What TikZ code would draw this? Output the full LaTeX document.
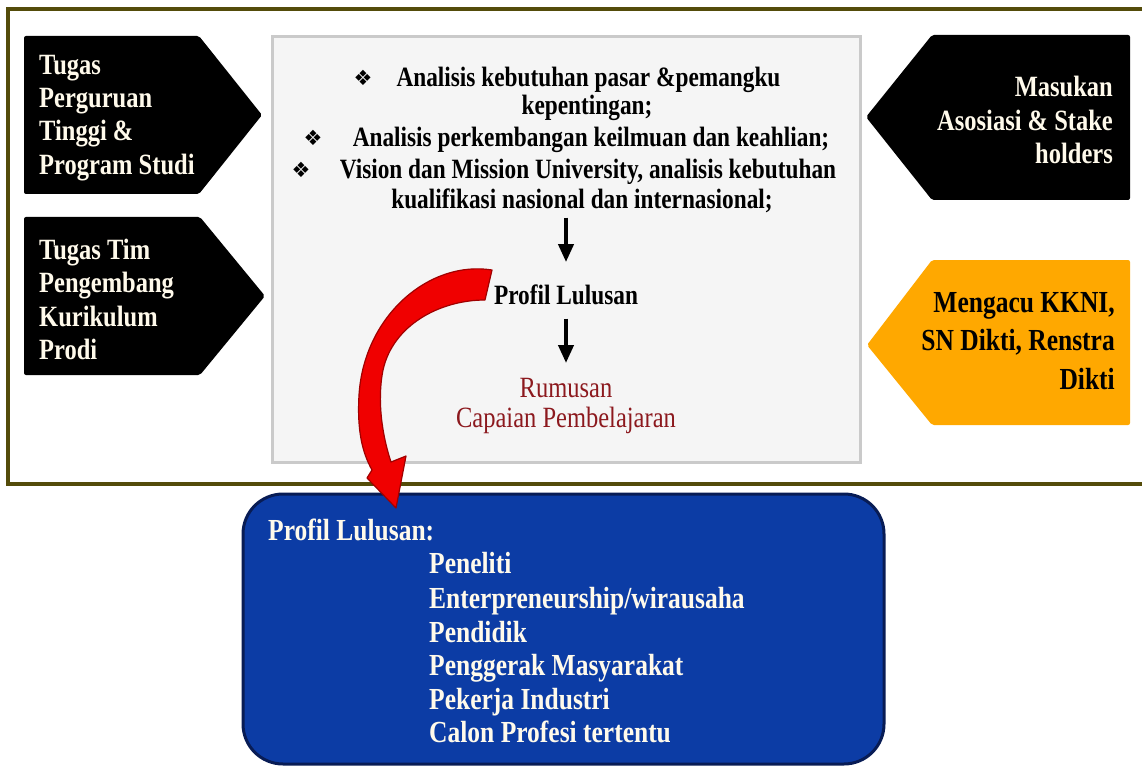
\documentclass[tikz,border=0pt]{standalone}
\usepackage{fontspec}
\setmainfont{Liberation Serif}
\newfontfamily\dingfont{DejaVu Sans}
\usetikzlibrary{arrows.meta}

\definecolor{frameC}{RGB}{84,76,10}
\definecolor{panelE}{RGB}{202,202,202}
\definecolor{panelF}{RGB}{245,245,245}
\definecolor{gold}{RGB}{255,168,0}
\definecolor{blueF}{RGB}{12,60,165}
\definecolor{blueE}{RGB}{8,28,85}
\definecolor{cream}{RGB}{255,250,235}
\definecolor{rumC}{RGB}{140,25,30}
\definecolor{redF}{RGB}{240,0,0}
\definecolor{redE}{RGB}{160,0,0}

\tikzset{
  frame/.style={draw=frameC, line width=4pt},
  panel/.style={draw=panelE, fill=panelF, line width=3pt, minimum width=588pt, minimum height=425pt, inner sep=0pt},
  darktag/.style={fill=black, rounded corners=2pt},
  goldtag/.style={fill=gold, rounded corners=2pt},
  tagtxt/.style={text=cream, font=\bfseries\fontsize{24.5}{27.7}\selectfont, yscale=1.2, inner sep=0pt},
  goldtxt/.style={text=black, font=\bfseries\fontsize{25.5}{32}\selectfont, yscale=1.2, inner sep=0pt, align=right, anchor=east},
  midtxt/.style={text=black, font=\bfseries\fontsize{23.3}{26}\selectfont, yscale=1.2, inner sep=0pt, anchor=base},
  bul/.style={text=black, font=\dingfont\fontsize{21}{24}\selectfont, inner sep=0pt, anchor=base},
  rumtxt/.style={text=rumC, font=\fontsize{24.5}{25}\selectfont, yscale=1.2, inner sep=0pt, align=center},
  outbox/.style={draw=blueE, fill=blueF, line width=3pt, rounded corners=40pt, minimum width=641pt, minimum height=270pt, inner sep=0pt},
  outtxt/.style={text=cream, font=\bfseries\fontsize{25.5}{30}\selectfont, yscale=1.2, inner sep=0pt, anchor=base west},
  blackarrow/.style={line width=4pt, -{Triangle[length=18pt,width=15pt]}},
  redarrow/.style={fill=redF, draw=redE, line width=1.2pt, line join=round},
}

\begin{document}
\begin{tikzpicture}[x=1pt, y=-1pt]
\useasboundingbox (0,0) rectangle (1142,767);
\fill[white] (0,0) rectangle (1142,767);

% outer frame (runs past the right edge)
\draw[frame] (8,9) rectangle (1170,484);

% central panel
\node[panel] (panel) at (566,249.5) {};

% left tags
\fill[darktag] (24,36) -- (199,36) -- (262,115) -- (199,194) -- (24,194) -- cycle;
\node[tagtxt, anchor=west, align=left] (tagA) at (39,118)
  {Tugas\\Perguruan\\Tinggi \&\\Program Studi};
\fill[darktag] (24,217) -- (200,217) -- (265,296) -- (200,375) -- (24,375) -- cycle;
\node[tagtxt, anchor=west, align=left] (tagB) at (39,299.5)
  {Tugas Tim\\Pengembang\\Kurikulum\\Prodi};

% right tags
\fill[darktag] (1130,35) -- (932,35) -- (866,117) -- (932,200) -- (1130,200) -- cycle;
\node[tagtxt, anchor=east, align=right] (tagC) at (1113,120)
  {Masukan\\Asosiasi \& Stake\\holders};
\fill[goldtag] (1130,260) -- (932,260) -- (867,345) -- (932,425) -- (1130,425) -- cycle;
\node[goldtxt] (tagD) at (1115,341)
  {Mengacu KKNI,\\SN Dikti, Renstra\\Dikti};

% panel contents
\node[bul] (b1) at (363,86) {❖};
\node[midtxt] (c1) at (588.5,87) {Analisis kebutuhan pasar \&pemangku};
\node[midtxt] (c2) at (587,115) {kepentingan;};
\node[bul] (b2) at (313,146) {❖};
\node[midtxt] (c3) at (591,147) {Analisis perkembangan keilmuan dan keahlian;};
\node[bul] (b3) at (301,178) {❖};
\node[midtxt] (c4) at (588,179) {Vision dan Mission University, analisis kebutuhan};
\node[midtxt] (c5) at (582,209) {kualifikasi nasional dan internasional;};

\node[midtxt] (prof) at (566,304) {Profil Lulusan};
\node[rumtxt] (rum) at (566,406) {Rumusan\\Capaian Pembelajaran};

\draw[blackarrow, shorten <=4pt, shorten >=22pt] (prof.north |- c5.south) -- (prof.north);
\draw[blackarrow, shorten <=14pt, shorten >=15pt] (prof.south) -- (prof.south |- rum.north);

% graduate profile box
\node[outbox] (out) at (563.5,629) {};
\node[outtxt] (o0) at (268,540) {Profil Lulusan:};
\node[outtxt] (o1) at (429,573) {Peneliti};
\node[outtxt] (o2) at (429,608) {Enterpreneurship/wirausaha};
\node[outtxt] (o3) at (429,642) {Pendidik};
\node[outtxt] (o4) at (429,675) {Penggerak Masyarakat};
\node[outtxt] (o5) at (429,709) {Pekerja Industri};
\node[outtxt] (o6) at (429,742) {Calon Profesi tertentu};

% curved red arrow from the profile line down into the box
\filldraw[redarrow]
  (492,270) .. controls (430,260) and (364,315) .. (359,395)
  .. controls (357,430) and (362,452) .. (372,470)
  -- (367,478) -- (396,508) -- (406,456) -- (391,462)
  .. controls (382,435) and (377,400) .. (383,370)
  .. controls (393,325) and (440,300) .. (485,300)
  -- cycle;
\end{tikzpicture}
\end{document}
